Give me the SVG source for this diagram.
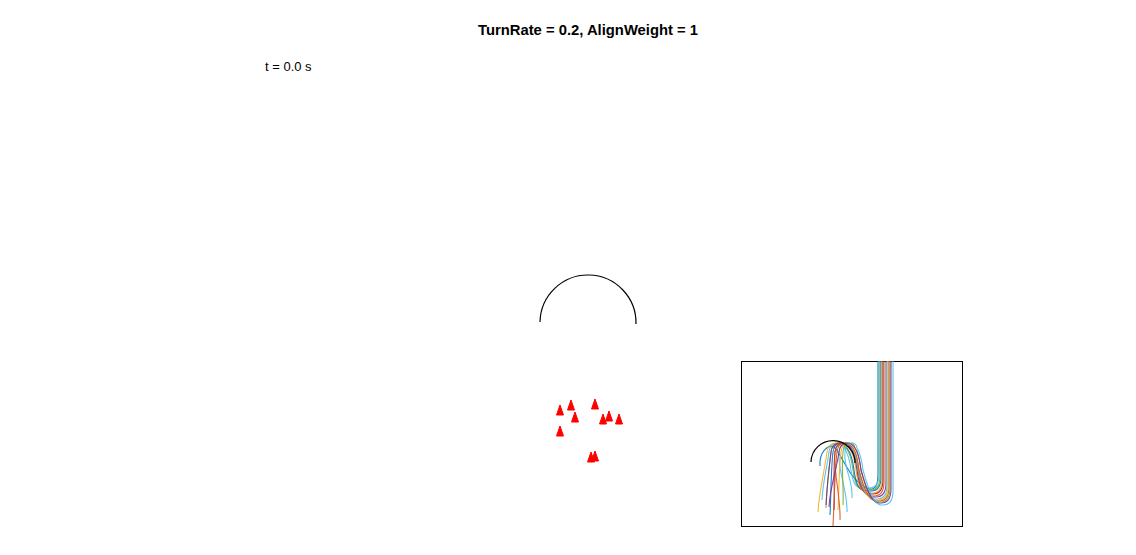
<svg xmlns="http://www.w3.org/2000/svg" width="1136" height="555" viewBox="0 0 1136 555">
<defs>
<style>
.title{font-family:"Liberation Sans",Arial,sans-serif;font-weight:bold;font-size:14.8px;fill:#000}
.lbl{font-family:"Liberation Sans",Arial,sans-serif;font-size:13px;fill:#000}
.arc{fill:none;stroke:#000;stroke-width:1.2}
.boid{fill:#ff0000;stroke:#ff0000;stroke-width:1;stroke-linejoin:round}
.tr{fill:none;stroke-width:1.1;opacity:0.9}
.c1{stroke:#0072BD}.c2{stroke:#D95319}.c3{stroke:#EDB120}.c4{stroke:#7E2F8E}.c5{stroke:#77AC30}.c6{stroke:#4DBEEE}.c7{stroke:#A2142F}
</style>
<clipPath id="inclip"><rect x="741" y="361" width="221" height="165"/></clipPath>
<path id="tri" d="M0,0 L3.5,10 L-3.5,10 Z"/>
</defs>
<rect width="1136" height="555" fill="#fff"/>
<text class="title" x="588" y="35" text-anchor="middle">TurnRate = 0.2, AlignWeight = 1</text>
<text class="lbl" x="265" y="71">t = 0.0 s</text>
<g id="obstacle">
<path class="arc" d="M540,322 A48,48 0 0 1 636,324"/>
</g>
<g id="boids">
<use href="#tri" class="boid" x="560" y="405"/>
<use href="#tri" class="boid" x="571" y="400"/>
<use href="#tri" class="boid" x="575" y="412"/>
<use href="#tri" class="boid" x="595" y="399"/>
<use href="#tri" class="boid" x="603" y="414"/>
<use href="#tri" class="boid" x="609" y="411"/>
<use href="#tri" class="boid" x="619" y="414"/>
<use href="#tri" class="boid" x="560" y="426"/>
<use href="#tri" class="boid" x="591" y="452"/>
<use href="#tri" class="boid" x="595" y="451"/>
</g>
<g id="inset">
<rect x="741.5" y="361.5" width="221" height="165" fill="#fff" stroke="#000" stroke-width="1"/>
<g clip-path="url(#inclip)">
<path class="tr c1" d="M820,466 C819,452 828,444 834,447 C840,452 846,470 856,480 C862,486 868,490 872,489 C877,488 878,482 878,472 L878,361"/>
<path class="tr c6" d="M822,500 C823,480 827,468 829,452 C830,442 840,440 844,448 C848,453 850,462 851,470 C853,485 856,488 864,488 L869,488 C876,488 879,483 879,474 L879,361"/>
<path class="tr c5" d="M826,508 C827,488 829,468 831,452 C832,442 842,440 846,448 C850,453 852,462 853,470 C855,485 858,490 866,490 L870,490 C877,490 880,485 880,476 L880,361"/>
<path class="tr c1" d="M830,515 C831,495 831,468 833,452 C834,442 844,440 847,448 C851,453 853,462 854,470 C856,485 859,491 867,491 L871,491 C878,491 881,486 881,477 L881,361"/>
<path class="tr c3" d="M818,512 C819,492 825,468 827,452 C828,442 838,440 849,448 C853,453 855,462 856,470 C858,485 861,493 869,493 L872,493 C879,493 882,488 882,479 L882,361"/>
<path class="tr c7" d="M834,510 C835,490 833,468 835,452 C836,442 846,440 850,448 C854,453 856,462 857,470 C859,485 862,494 870,494 L873,494 C880,494 883,489 883,480 L883,361"/>
<path class="tr c2" d="M833,526 C834,506 835,468 837,452 C838,442 848,440 851,448 C855,453 857,462 858,470 C860,485 863,496 871,496 L874,496 C881,496 884,491 884,482 L884,361"/>
<path class="tr c4" d="M826,505 C827,485 829,468 831,452 C832,442 842,440 851,448 C855,453 857,462 858,470 C861,485 865,497 873,497 L876,497 C883,497 886,492 886,483 L886,361"/>
<path class="tr c6" d="M847,512 C848,492 837,468 839,452 C840,442 850,440 852,448 C855,453 857,462 858,470 C861,485 866,499 874,499 L877,499 C884,499 887,494 887,485 L887,361"/>
<path class="tr c3" d="M838,510 C839,490 839,468 841,452 C842,442 852,440 853,448 C856,453 858,462 859,470 C862,485 867,500 875,500 L878,500 C885,500 888,495 888,486 L888,361"/>
<path class="tr c2" d="M840,520 C841,500 833,468 835,452 C836,442 846,440 853,448 C857,453 858,462 859,470 C863,485 868,501 876,501 L879,501 C886,501 889,496 889,487 L889,361"/>
<path class="tr c5" d="M843,505 C844,485 841,468 843,452 C844,442 854,440 855,448 C858,453 860,462 861,470 C865,485 870,502 878,502 L880,502 C887,502 890,497 890,488 L890,361"/>
<path class="tr c4" d="M829,507 C830,487 837,468 839,452 C840,442 850,440 855,448 C859,453 860,462 861,470 C865,485 871,503 879,503 L881,503 C888,503 891,498 891,489 L891,361"/>
<path class="tr c6" d="M852,498 C853,478 843,468 845,452 C846,442 856,440 857,448 C860,453 862,462 863,470 C867,485 873,505 881,505 L883,505 C890,505 893,500 893,491 L893,361"/>
</g>
<path class="arc" d="M811,462 A22,22 0 0 1 855,463"/>
</g>
</svg>
